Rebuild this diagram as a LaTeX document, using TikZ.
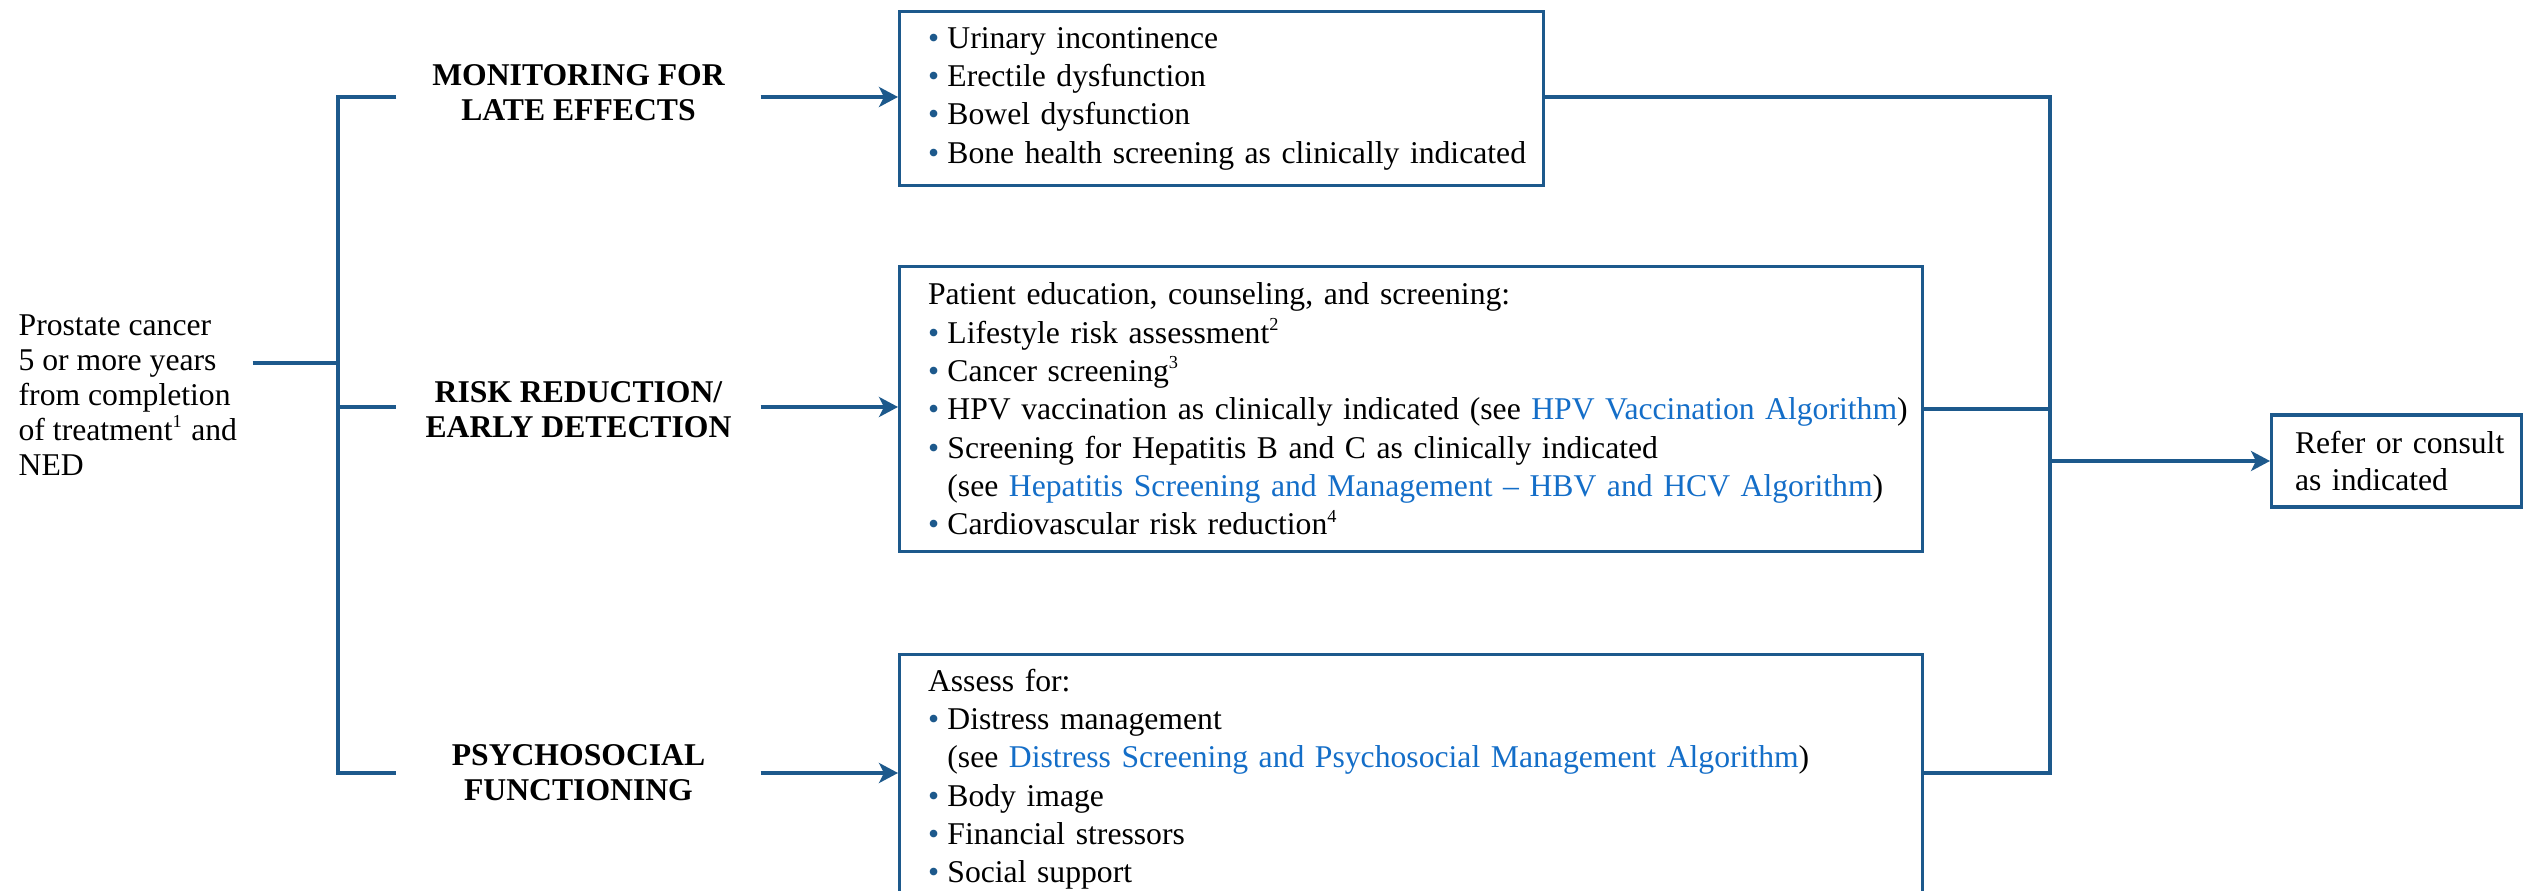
\documentclass[tikz,border=0pt]{standalone}
\usepackage{fontspec}
\setmainfont{Liberation Serif}
\usetikzlibrary{arrows.meta}
\definecolor{flowblue}{RGB}{29,89,140}
\definecolor{linkblue}{RGB}{20,110,200}
\newcommand{\bul}{\textcolor{flowblue}{\textbullet}\hspace{2.5pt}}
\newcommand{\cont}{\phantom{\textbullet}\hspace{2.5pt}}
\newcommand{\lnk}[1]{\textcolor{linkblue}{#1}}
\newcommand{\fn}[1]{\textsuperscript{\fontsize{5.5}{6}\selectfont #1}}

\begin{document}
\begin{tikzpicture}[x=0.3pt,y=-0.3pt]
\tikzstyle{conn}=[draw=flowblue,line width=1pt]
\tikzstyle{arr}=[conn,-{Stealth[length=5.7pt,width=6pt,inset=1.5pt]}]
\tikzstyle{head}=[font=\fontsize{9.5}{10.5}\selectfont\bfseries,align=center,inner sep=0pt,minimum width=108.9pt]
\tikzstyle{fbox}=[draw=flowblue,line width=1pt,rectangle,align=left,inner xsep=8.5pt,inner ysep=0pt,font=\fontsize{9.5}{11.5}\selectfont]
\useasboundingbox (0,0) rectangle (2529,891);
\coordinate (ltop) at (338,97);
\coordinate (ljoin) at (338,363);
\coordinate (lrisk) at (338,407);
\coordinate (lbot) at (338,773);
\coordinate (rtop) at (2050,97);
\coordinate (rbot) at (2050,773);
\node[anchor=west,align=left,inner xsep=4.5pt,font=\fontsize{9.5}{10.5}\selectfont] (start) at (3,395)
  {Prostate cancer\\5 or more years\\from completion\\of treatment\fn{1} and\\NED};
\node[head] (late) at (578.5,92.5) {MONITORING FOR\\LATE EFFECTS};
\node[head] (risk) at (578.5,409.5) {RISK REDUCTION/\\EARLY DETECTION};
\node[head] (psych) at (578.5,772.5) {PSYCHOSOCIAL\\FUNCTIONING};
\node[fbox,anchor=north west,text width=176.2pt,minimum height=52.2pt] (lateitems) at (898,10)
  {\bul Urinary incontinence\\
   \bul Erectile dysfunction\\
   \bul Bowel dysfunction\\
   \mbox{\bul Bone health screening as clinically indicated}};
\node[fbox,anchor=north west,text width=289.9pt,minimum height=85.5pt] (riskitems) at (898,265)
  {Patient education, counseling, and screening:\\
   \bul Lifestyle risk assessment\fn{2}\\
   \bul Cancer screening\fn{3}\\
   \mbox{\bul HPV vaccination as clinically indicated (see \lnk{HPV Vaccination Algorithm})}\\
   \mbox{\bul Screening for Hepatitis B and C as clinically indicated}\\
   \mbox{\cont(see \lnk{Hepatitis Screening and Management -- HBV and HCV Algorithm})}\\
   \bul Cardiovascular risk reduction\fn{4}};
\node[fbox,anchor=north west,text width=289.9pt,minimum height=74.7pt] (psychitems) at (898,653)
  {Assess for:\\
   \bul Distress management\\
   \mbox{\cont(see \lnk{Distress Screening and Psychosocial Management Algorithm})}\\
   \bul Body image\\
   \bul Financial stressors\\
   \bul Social support};
\node[fbox,anchor=west,inner xsep=7pt,text width=61pt,minimum height=27.6pt,font=\fontsize{9.5}{11.1}\selectfont] (refer) at (2270,461)
  {\mbox{Refer or consult}\\as indicated};
\draw[conn] (start.east |- ljoin) -- (ljoin);
\draw[conn] (ltop -| late.west) -- (ltop) -- (lbot) -- (lbot -| psych.west);
\draw[conn] (lrisk) -- (lrisk -| risk.west);
\draw[arr] (ltop -| late.east) -- (ltop -| lateitems.west);
\draw[arr] (lrisk -| risk.east) -- (lrisk -| riskitems.west);
\draw[arr] (lbot -| psych.east) -- (lbot -| psychitems.west);
\draw[conn] (rtop -| lateitems.east) -- (rtop) -- (rbot) -- (rbot -| psychitems.east);
\draw[conn] (riskitems.east) -- (riskitems.east -| rtop);
\draw[arr] (refer.west -| rtop) -- (refer.west);
\end{tikzpicture}
\end{document}
